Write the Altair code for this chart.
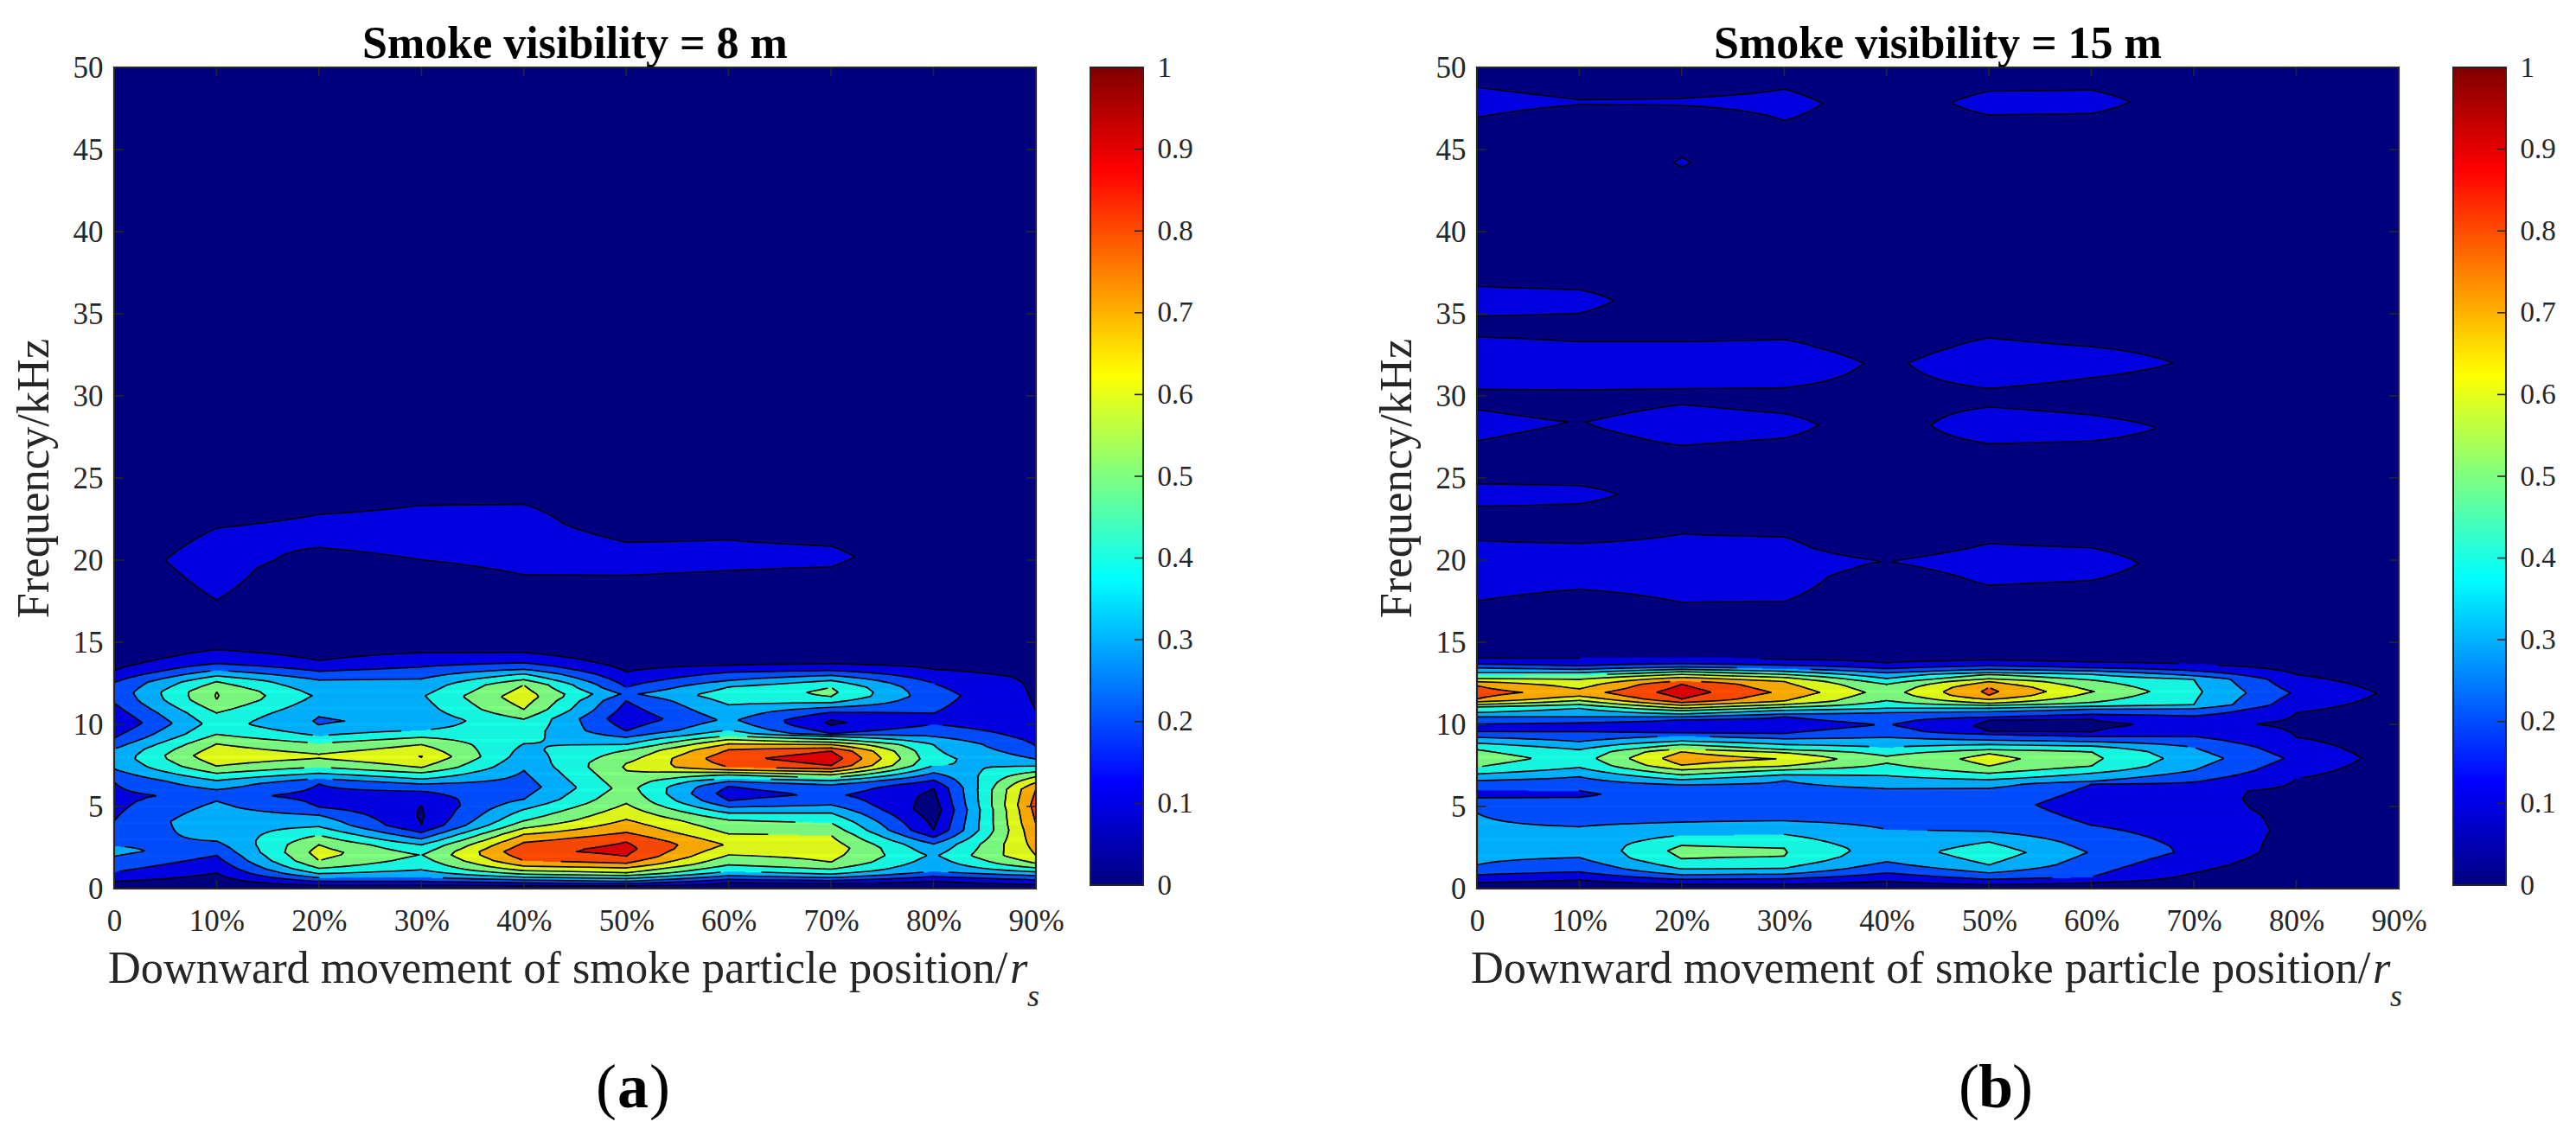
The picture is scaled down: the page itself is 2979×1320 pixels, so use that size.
import altair as alt
import numpy as np
import pandas as pd

alt.data_transformers.disable_max_rows()

# For each position column, (frequency kHz, normalised amplitude)
A_PROFILES = [
 [(0,.02),(.44,.1),(1.0,.2),(1.96,.3),(2.28,.33),(2.6,.3),(4.12,.2),(5.4,.17),(6.49,.2),(7.28,.3),(7.9,.335),(8.5,.3),(9.16,.2),(10.1,.105),(11.3,.2),(11.9,.23),(12.56,.2),(13.26,.1),(14.2,.03),(18,.04),(20,.06),(22,.04),(50,.03)],
 [(0,.02),(.96,.1),(2.02,.2),(2.89,.3),(4.1,.38),(5.32,.3),(5.67,.23),(6.02,.3),(6.58,.4),(7.02,.5),(7.46,.6),(8.1,.68),(8.81,.6),(9.39,.5),(10.03,.447),(10.7,.5),(11.5,.6),(11.75,.605),(12.0,.6),(12.6,.5),(12.95,.4),(13.3,.3),(13.7,.2),(14.54,.1),(15.5,.03),(16.5,.05),(17.56,.1),(20,.14),(21.96,.1),(23,.04),(50,.03)],
 [(0,.02),(.21,.1),(.44,.2),(.67,.3),(.91,.4),(1.23,.5),(1.7,.6),(2.2,.64),(2.67,.6),(3.25,.5),(3.77,.4),(4.47,.3),(4.96,.2),(5.6,.17),(6.37,.2),(6.7,.3),(7.02,.4),(7.4,.5),(7.93,.6),(8.06,.605),(8.19,.6),(8.85,.5),(9.3,.4),(9.96,.3),(10.2,.29),(10.46,.3),(11.75,.385),(12.7,.3),(13.23,.2),(13.88,.1),(15,.03),(19.5,.05),(20.77,.1),(21.8,.14),(22.79,.1),(24,.04),(50,.03)],
 [(0,.02),(.23,.1),(.44,.2),(.7,.3),(1.14,.4),(2.05,.497),(2.67,.4),(3.02,.3),(3.42,.2),(3.86,.1),(4.45,.09),(5.05,.1),(5.93,.2),(6.37,.3),(6.67,.4),(7.05,.5),(7.37,.6),(8.03,.705),(8.77,.6),(9.21,.5),(9.65,.4),(10.2,.33),(11.75,.39),(12.77,.3),(13.49,.2),(14.37,.1),(15.3,.03),(19,.05),(20.02,.1),(21.7,.15),(23.35,.1),(24.5,.04),(50,.03)],
 [(0,.02),(.18,.1),(.35,.2),(.53,.3),(.7,.4),(.88,.5),(1.09,.6),(1.37,.7),(1.7,.8),(2.25,.88),(2.81,.8),(3.3,.7),(3.68,.6),(4.12,.5),(4.82,.4),(5.44,.3),(6.2,.25),(7.19,.3),(8.82,.4),(10.32,.5),(10.91,.6),(11.67,.66),(12.4,.6),(12.72,.5),(13.07,.4),(13.35,.3),(13.74,.2),(14.37,.1),(15.3,.03),(18,.05),(19.1,.1),(21.2,.17),(23.4,.1),(24.5,.04),(50,.03)],
 [(0,.02),(.16,.1),(.3,.2),(.44,.3),(.61,.4),(.79,.5),(.96,.6),(1.26,.7),(1.54,.8),(1.96,.9),(2.42,.93),(2.84,.9),(3.42,.8),(4.21,.7),(5.18,.6),(6.1,.54),(7.19,.6),(7.4,.61),(7.63,.6),(8.42,.5),(8.77,.4),(9.21,.3),(9.61,.2),(10.35,.13),(11.44,.2),(11.85,.28),(12.25,.2),(13.18,.1),(14.2,.03),(18,.05),(19.07,.1),(20,.14),(21.09,.1),(22.2,.04),(50,.03)],
 [(0,.02),(.35,.1),(.56,.2),(.79,.3),(1.05,.4),(1.44,.5),(2.05,.6),(2.67,.69),(3.33,.6),(4.18,.5),(4.6,.4),(4.96,.3),(5.35,.2),(5.79,.15),(6.23,.2),(6.53,.3),(6.7,.4),(6.93,.5),(7.07,.6),(7.23,.7),(7.4,.8),(7.93,.87),(8.46,.8),(8.81,.7),(9.07,.6),(9.3,.5),(9.65,.4),(10.26,.32),(11.19,.4),(11.75,.46),(12.28,.4),(12.67,.3),(13.17,.2),(13.6,.1),(14.6,.03),(18.3,.05),(19.35,.1),(20.3,.13),(21.23,.1),(22.3,.04),(50,.03)],
 [(0,.02),(.3,.1),(.49,.2),(.67,.3),(.88,.4),(1.18,.5),(1.61,.6),(2.46,.66),(3.25,.6),(4.0,.5),(4.6,.4),(5.09,.3),(5.7,.22),(6.32,.3),(6.58,.4),(6.75,.5),(6.93,.6),(7.11,.7),(7.28,.8),(7.49,.9),(7.93,.96),(8.37,.9),(8.56,.8),(8.77,.7),(8.91,.6),(9.09,.5),(9.26,.4),(9.37,.3),(9.44,.2),(9.95,.1),(10.1,.085),(10.26,.1),(10.74,.2),(11.04,.3),(11.32,.4),(11.7,.5),(11.96,.52),(12.25,.5),(12.67,.4),(12.98,.3),(13.28,.2),(13.68,.1),(14.7,.03),(18.6,.05),(19.58,.1),(20.2,.115),(20.86,.1),(22,.04),(50,.03)],
 [(0,.02),(.44,.1),(.74,.2),(1.05,.3),(2.02,.385),(2.72,.3),(3.12,.2),(3.56,.1),(4.8,.04),(6.1,.1),(6.6,.2),(7.05,.3),(7.5,.4),(7.9,.43),(8.77,.4),(9.26,.3),(10.0,.2),(10.3,.15),(10.67,.2),(11.75,.24),(12.5,.2),(13.35,.1),(14.4,.03),(19,.04),(20.2,.05),(50,.03)],
 [(0,.02),(.26,.1),(.53,.2),(.79,.3),(1.02,.4),(1.26,.5),(1.54,.6),(2.02,.7),(3.95,.8),(5.09,.84),(6.05,.8),(6.46,.7),(6.81,.6),(7.11,.5),(7.46,.4),(7.89,.3),(8.68,.2),(9.8,.14),(10.88,.1),(11.75,.09),(12.9,.083),(13.3,.06),(14.3,.03),(50,.03)],
]

B_PROFILES = [
 [(0,.02),(.35,.1),(.84,.2),(1.44,.3),(2.3,.33),(4.61,.3),(5.53,.2),(5.75,.18),(6.0,.2),(6.58,.3),(6.98,.4),(7.4,.5),(7.93,.56),(8.46,.5),(8.86,.4),(9.21,.3),(9.56,.2),(9.8,.15),(10.02,.2),(10.46,.3),(10.72,.4),(11.07,.5),(11.21,.6),(11.37,.7),(11.54,.8),(11.95,.84),(12.35,.8),(12.6,.7),(12.79,.6),(12.96,.5),(13.14,.4),(13.44,.3),(13.67,.2),(14.02,.1),(14.6,.03),(16.5,.05),(17.51,.1),(19.3,.15),(21.2,.1),(22.2,.05),(23,.05),(23.26,.1),(24,.14),(24.65,.1),(25.5,.05),(26.4,.07),(27.26,.1),(28.2,.13),(29.17,.1),(30,.06),(30.4,.1),(32,.17),(33.6,.1),(34.3,.07),(34.84,.1),(35.8,.14),(36.68,.1),(37.6,.04),(46,.04),(46.95,.1),(47.9,.15),(48.8,.1),(49.8,.04),(50,.03)],
 [(0,.02),(.53,.1),(1.02,.2),(1.89,.3),(2.8,.32),(3.77,.3),(5.56,.2),(5.75,.185),(5.96,.2),(6.81,.3),(7.37,.4),(7.93,.45),(8.46,.4),(8.95,.3),(9.56,.2),(9.8,.15),(10.09,.2),(10.46,.3),(10.98,.4),(11.21,.5),(11.46,.6),(11.72,.7),(11.95,.75),(12.16,.7),(12.74,.6),(13.0,.5),(13.14,.4),(13.35,.3),(13.56,.2),(14.02,.1),(14.6,.03),(17,.05),(18.23,.1),(19.7,.14),(21.02,.1),(22,.05),(23.44,.1),(24,.13),(24.54,.1),(25.5,.05),(27.5,.07),(28.4,.097),(29.5,.06),(30.37,.1),(32,.17),(33.3,.1),(34.2,.07),(35.02,.1),(35.8,.13),(36.47,.1),(37.4,.04),(47,.04),(47.74,.1),(47.9,.105),(48.05,.1),(49,.04),(50,.03)],
 [(0,.02),(.26,.1),(.56,.2),(.84,.3),(1.19,.4),(1.81,.5),(2.3,.53),(2.63,.5),(3.25,.4),(4.04,.3),(5.65,.25),(6.32,.3),(6.63,.4),(6.93,.5),(7.23,.6),(7.51,.7),(7.93,.76),(8.33,.7),(8.5,.6),(8.77,.5),(8.98,.4),(9.3,.3),(9.47,.2),(9.85,.14),(10.28,.2),(10.46,.3),(10.63,.4),(10.84,.5),(10.98,.6),(11.16,.7),(11.33,.8),(11.54,.9),(11.97,.95),(12.44,.9),(12.65,.8),(12.86,.7),(13.04,.6),(13.21,.5),(13.35,.4),(13.49,.3),(13.7,.2),(14.05,.1),(14.6,.03),(16.5,.05),(17.42,.1),(19.5,.15),(21.6,.1),(22.6,.05),(26,.05),(26.98,.1),(28.2,.157),(29.49,.1),(29.8,.06),(30.42,.1),(32,.17),(33.3,.1),(34.5,.04),(43,.04),(43.93,.1),(44.2,.105),(44.52,.1),(45.5,.04),(47,.05),(47.7,.1),(47.9,.105),(48.13,.1),(49,.04),(50,.03)],
 [(0,.02),(.26,.1),(.6,.2),(.88,.3),(1.23,.4),(1.96,.5),(2.2,.505),(2.46,.5),(3.3,.4),(4.12,.3),(5.6,.25),(6.58,.3),(6.93,.4),(7.23,.5),(7.46,.6),(7.9,.695),(8.28,.6),(8.46,.5),(8.77,.4),(9.12,.3),(9.44,.2),(9.95,.14),(10.46,.2),(10.63,.3),(10.86,.4),(11.04,.5),(11.21,.6),(11.42,.7),(11.95,.778),(12.61,.7),(12.86,.6),(13.04,.5),(13.23,.4),(13.4,.3),(13.6,.2),(13.96,.1),(14.6,.03),(16.5,.05),(17.47,.1),(19.5,.15),(21.42,.1),(22.4,.05),(26.4,.05),(27.42,.1),(28.2,.125),(28.93,.1),(29.7,.06),(30.49,.1),(32,.17),(33.42,.1),(34.4,.05),(45.8,.05),(46.77,.1),(47.8,.13),(48.68,.1),(49.6,.04),(50,.03)],
 [(0,.02),(.44,.1),(.96,.2),(1.63,.3),(2.3,.343),(3.6,.3),(5,.24),(6.09,.3),(6.88,.4),(7.63,.5),(7.86,.512),(8.07,.5),(8.6,.4),(9.21,.3),(9.98,.205),(10.72,.3),(10.98,.4),(11.45,.5),(11.95,.553),(12.44,.5),(12.79,.4),(13.14,.3),(13.39,.2),(13.74,.1),(14.5,.03),(19,.05),(19.93,.099),(20.8,.05),(28.2,.05),(32,.08),(33,.05),(47.8,.05),(50,.03)],
 [(0,.02),(.23,.1),(.56,.2),(.96,.3),(1.44,.4),(2.2,.46),(2.84,.4),(3.47,.3),(5.1,.25),(6.1,.3),(6.63,.4),(7.02,.5),(7.46,.6),(7.9,.635),(8.21,.6),(8.46,.5),(8.77,.4),(9.04,.3),(9.39,.2),(9.56,.1),(9.9,.08),(10.26,.1),(10.44,.2),(10.77,.3),(10.98,.4),(11.16,.5),(11.28,.6),(11.51,.7),(11.77,.8),(12.0,.82),(12.25,.8),(12.6,.7),(12.77,.6),(13.04,.5),(13.14,.4),(13.35,.3),(13.56,.2),(13.91,.1),(14.6,.03),(17.4,.05),(18.46,.1),(19.8,.15),(21.0,.1),(22,.05),(26,.05),(27.09,.1),(28.2,.166),(29.32,.1),(29.9,.06),(30.45,.1),(32,.175),(33.53,.1),(34.5,.04),(46.1,.05),(47.1,.1),(47.85,.13),(48.56,.1),(49.5,.04),(50,.03)],
 [(0,.02),(.35,.1),(.7,.2),(2.2,.293),(3.86,.2),(5.1,.14),(6.35,.2),(6.53,.3),(7.02,.4),(7.46,.5),(7.93,.52),(8.33,.5),(8.68,.4),(8.95,.3),(9.26,.2),(9.53,.1),(9.93,.085),(10.33,.1),(10.61,.2),(10.93,.3),(11.1,.4),(11.33,.5),(12.0,.605),(12.7,.5),(13.04,.4),(13.26,.3),(13.44,.2),(13.79,.1),(14.5,.03),(17.7,.05),(18.75,.1),(19.8,.14),(20.75,.1),(21.8,.05),(26.2,.05),(27.25,.1),(28.1,.14),(28.84,.1),(29.8,.05),(31.1,.1),(32,.15),(33.0,.1),(34,.04),(46.2,.05),(47.2,.1),(47.9,.13),(48.63,.1),(49.6,.04),(50,.03)],
 [(0,.02),(.96,.1),(1.75,.146),(2.2,.178),(2.6,.178),(3.5,.16),(4.4,.14),(4.9,.125),(5.44,.118),(5.96,.117),(6.49,.2),(7.19,.3),(7.93,.35),(8.6,.3),(9.26,.2),(10.03,.115),(10.51,.2),(10.95,.3),(11.2,.4),(12,.42),(12.74,.4),(12.96,.3),(13.26,.2),(13.65,.1),(14.4,.03),(20,.053),(24,.03),(28,.078),(30,.03),(32,.087),(35,.03),(48,.05),(50,.03)],
 [(0,.02),(1.75,.05),(2.6,.061),(3.5,.079),(4.4,.08),(4.9,.079),(5.44,.08),(5.96,.085),(6.7,.1),(7.93,.18),(9.21,.1),(10.03,.088),(10.72,.1),(11.9,.187),(13.03,.1),(14,.03),(50,.03)],
 [(0,.02),(5,.03),(7.93,.053),(10,.04),(11.9,.076),(13.5,.03),(50,.03)],
]

POSITIONS = [0, 10, 20, 30, 40, 50, 60, 70, 80, 90]
LEVELS = [.1, .2, .3, .4, .5, .6, .7, .8, .9]
BAND_COLORS = ["#00007f", "#0000e2", "#0050ff", "#00b4ff", "#1affe4", "#80ff80", "#e4ff1a", "#ffae00", "#ff4c00", "#e00000"]
JET_STOPS = [(0, "#000080"), (.125, "#0000ff"), (.375, "#00ffff"), (.625, "#ffff00"), (.875, "#ff0000"), (1, "#800000")]
Y_TICKS = [0, 5, 10, 15, 20, 25, 30, 35, 40, 45, 50]
CB_TICKS = [0, .1, .2, .3, .4, .5, .6, .7, .8, .9, 1]
TITLES = ["Smoke visibility = 8 m", "Smoke visibility = 15 m"]
XTITLE = "Downward movement of smoke particle position/"
YTITLE = "Frequency/kHz"

W, H = 1066, 950
CBW, CBH = 61, 946
FONT = "Liberation Serif"
INK = "#262626"
ROWS = np.concatenate([np.arange(0, 15, .05), np.arange(15, 50.01, .1)])


def grid_of(profiles):
    out = []
    for p in profiles:
        fs, vs = zip(*p)
        out.append(np.interp(ROWS, fs, vs))
    return np.array(out)


def fill_cells(g):
    cells = []
    for r in range(len(ROWS) - 1):
        v = (g[:, r] + g[:, r + 1]) / 2
        if v.max() < LEVELS[0]:
            continue
        xs = list(map(float, POSITIONS))
        for c in range(len(POSITIONS) - 1):
            for lv in LEVELS:
                a, b = v[c], v[c + 1]
                if (a - lv) * (b - lv) < 0:
                    xs.append(POSITIONS[c] + (lv - a) / (b - a) * 10)
        xs = sorted(xs)
        start = xs[0]
        last = None
        for i in range(len(xs) - 1):
            mid = (xs[i] + xs[i + 1]) / 2
            band = int(np.searchsorted(LEVELS, np.interp(mid, POSITIONS, v), side="right"))
            if last is None:
                last = band
            elif band != last:
                if last > 0:
                    cells.append((start, xs[i], ROWS[r], ROWS[r + 1], last))
                start, last = xs[i], band
        if last > 0:
            cells.append((start, xs[-1], ROWS[r], ROWS[r + 1], last))
    return pd.DataFrame(cells, columns=["x", "x2", "y", "y2", "band"]).round(3)


def contour_segments(g):
    segs = []
    for lv in LEVELS:
        for c in range(len(POSITIONS) - 1):
            x0, x1 = POSITIONS[c], POSITIONS[c + 1]
            for r in range(len(ROWS) - 1):
                y0, y1 = ROWS[r], ROWS[r + 1]
                a, b, d, e = g[c, r], g[c + 1, r], g[c + 1, r + 1], g[c, r + 1]
                pts = []
                if (a - lv) * (b - lv) < 0:
                    pts.append((x0 + (lv - a) / (b - a) * 10, y0))
                if (b - lv) * (d - lv) < 0:
                    pts.append((x1, y0 + (lv - b) / (d - b) * (y1 - y0)))
                if (d - lv) * (e - lv) < 0:
                    pts.append((x0 + (lv - e) / (d - e) * 10, y1))
                if (e - lv) * (a - lv) < 0:
                    pts.append((x0, y0 + (lv - a) / (e - a) * (y1 - y0)))
                if len(pts) == 2:
                    segs.append((*pts[0], *pts[1]))
                elif len(pts) == 4:
                    if (a + b + d + e) / 4 >= lv and a >= lv or (a + b + d + e) / 4 < lv and a < lv:
                        segs.append((*pts[0], *pts[1]))
                        segs.append((*pts[2], *pts[3]))
                    else:
                        segs.append((*pts[0], *pts[3]))
                        segs.append((*pts[1], *pts[2]))
    return pd.DataFrame(segs, columns=["x", "y", "x2", "y2"]).round(3)


def label(text, x, y, size, **kw):
    return alt.Chart(pd.DataFrame({"t": [text]})).mark_text(
        font=FONT, fontSize=size, color=kw.pop("color", INK), align=kw.pop("align", "left"),
        baseline="alphabetic", **kw
    ).encode(x=alt.value(x), y=alt.value(y), text="t:N")


X_AXIS = alt.Axis(
    values=POSITIONS, labelExpr="datum.value == 0 ? '0' : datum.value + '%'", tickSize=0,
    domain=False, grid=False, labelFont=FONT, labelFontSize=35, labelColor=INK,
    labelPadding=20, labelOverlap=False, labelFlush=False, title=None)
Y_AXIS = alt.Axis(
    values=Y_TICKS, tickSize=0, domain=False, grid=False, labelFont=FONT, labelFontSize=35,
    labelColor=INK, labelPadding=13, labelOverlap=False, labelFlush=False, title=YTITLE,
    titleFont=FONT, titleFontSize=52.5, titleFontWeight="normal", titleColor=INK, titlePadding=18)


def panel(profiles, title, letter):
    g = grid_of(profiles)
    xs = alt.Scale(domain=[0, 90], nice=False, zero=False)
    ys = alt.Scale(domain=[0, 50], nice=False, zero=False)
    dummy = pd.DataFrame({"a": [0]})
    bg = alt.Chart(dummy).mark_rect(color=BAND_COLORS[0]).encode(
        x=alt.value(0), x2=alt.value(W), y=alt.value(0), y2=alt.value(H))
    band_scale = alt.Scale(domain=list(range(10)), range=BAND_COLORS)
    fill = alt.Chart(fill_cells(g)).mark_rect(strokeWidth=.6).encode(
        x=alt.X("x:Q", scale=xs, axis=X_AXIS),
        x2="x2:Q",
        y=alt.Y("y:Q", scale=ys, axis=Y_AXIS),
        y2="y2:Q",
        color=alt.Color("band:O", scale=band_scale, legend=None),
        stroke=alt.Stroke("band:O", scale=band_scale, legend=None),
    )
    lines = alt.Chart(contour_segments(g)).mark_rule(color="black", strokeWidth=1.6, strokeCap="round").encode(
        x=alt.X("x:Q", scale=xs, axis=X_AXIS), x2="x2:Q",
        y=alt.Y("y:Q", scale=ys, axis=Y_AXIS), y2="y2:Q")
    xt = pd.DataFrame({"p": POSITIONS})
    yt = pd.DataFrame({"p": Y_TICKS})
    tick = dict(color=INK, strokeWidth=1.6)
    t_bottom = alt.Chart(xt).mark_rule(**tick).encode(
        x=alt.X("p:Q", scale=xs, axis=X_AXIS), y=alt.value(H - 10), y2=alt.value(H))
    t_top = alt.Chart(xt).mark_rule(**tick).encode(
        x=alt.X("p:Q", scale=xs, axis=X_AXIS), y=alt.value(0), y2=alt.value(10))
    t_left = alt.Chart(yt).mark_rule(**tick).encode(
        y=alt.Y("p:Q", scale=ys, axis=Y_AXIS), x=alt.value(0), x2=alt.value(11))
    t_right = alt.Chart(yt).mark_rule(**tick).encode(
        y=alt.Y("p:Q", scale=ys, axis=Y_AXIS), x=alt.value(W - 11), x2=alt.value(W))
    frame = alt.Chart(dummy).mark_rect(filled=False, stroke=INK, strokeWidth=2.2).encode(
        x=alt.value(0), x2=alt.value(W), y=alt.value(0), y2=alt.value(H))
    return alt.layer(
        bg, fill, lines, t_bottom, t_top, t_left, t_right, frame,
        label(title, W / 2, -11, 52, align="center", fontWeight="bold", color="black"),
        label(XTITLE, -7, 1059, 52.4),
        label("r", 1036, 1059, 52.4, fontStyle="italic"),
        label("s", 1056, 1086, 36, fontStyle="italic"),
        label("(", 581, 1203, 72, align="right", color="black"),
        label(letter, 600, 1203, 72, align="center", fontWeight="bold", color="black"),
        label(")", 619, 1203, 72, color="black"),
    ).properties(width=W, height=H)


def colorbar():
    s = alt.Scale(domain=[0, 1], nice=False, zero=False)
    axis = alt.Axis(
        orient="right", values=CB_TICKS, format=".1~f", tickSize=0, domain=False, grid=False,
        labelFont=FONT, labelFontSize=33, labelColor=INK, labelPadding=16, labelOverlap=False,
        labelFlush=False, title=None)
    grad = alt.LinearGradient(gradient="linear", stops=[alt.GradientStop(offset=o, color=c) for o, c in JET_STOPS],
                              x1=0, x2=0, y1=1, y2=0)
    bar = alt.Chart(pd.DataFrame({"a": [0], "b": [1]})).mark_rect(color=grad).encode(
        x=alt.value(0), x2=alt.value(CBW),
        y=alt.Y("a:Q", scale=s, axis=axis),
        y2="b:Q")
    ticks = alt.Chart(pd.DataFrame({"p": CB_TICKS[1:-1]})).mark_rule(color=INK, strokeWidth=1.6).encode(
        y=alt.Y("p:Q", scale=s, axis=axis), x=alt.value(CBW - 10), x2=alt.value(CBW))
    frame = alt.Chart(pd.DataFrame({"a": [0]})).mark_rect(filled=False, stroke=INK, strokeWidth=2).encode(
        x=alt.value(0), x2=alt.value(CBW), y=alt.value(0), y2=alt.value(CBH))
    return alt.layer(bar, ticks, frame).properties(width=CBW, height=CBH)


spacer = alt.Chart(pd.DataFrame({"a": [0]})).mark_point(opacity=0).encode(
    x=alt.value(0), y=alt.value(0)).properties(width=260, height=H)

chart = alt.hconcat(
    panel(A_PROFILES, TITLES[0], "a"), colorbar(), spacer,
    panel(B_PROFILES, TITLES[1], "b"), colorbar(),
    spacing=63, bounds="flush",
).properties(
    padding={"left": 5, "top": 17, "right": 5, "bottom": 5}
).configure_view(stroke=None)

chart.save("out.html", embed_options={"renderer": "svg", "actions": False})
